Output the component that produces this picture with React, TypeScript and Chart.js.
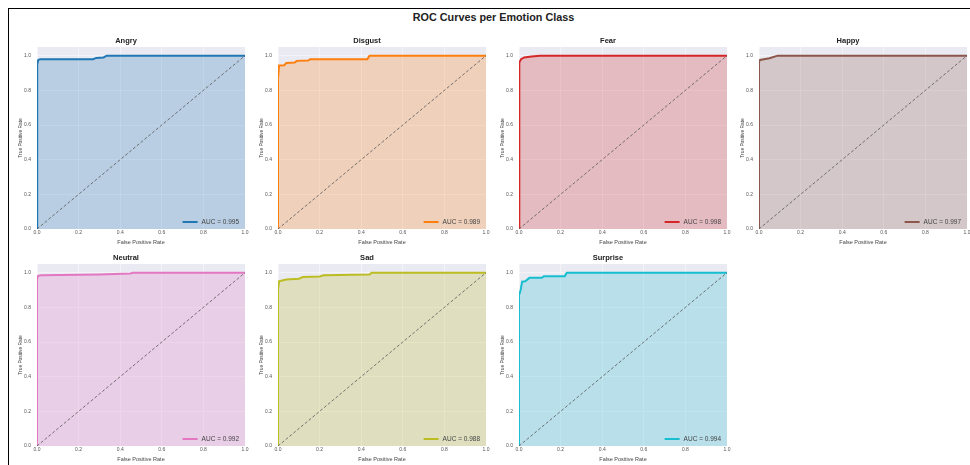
import { useEffect, useRef } from "react";
import { Chart, registerables } from "chart.js";

Chart.register(...registerables);

// ---------- data ----------
const figureTitle = "ROC Curves per Emotion Class";
const classes = ["Angry", "Disgust", "Fear", "Happy", "Neutral", "Sad", "Surprise"];
const aucValues = [0.995, 0.989, 0.998, 0.997, 0.992, 0.988, 0.994];
const axisTicks = [0, 0.2, 0.4, 0.6, 0.8, 1.0];
const chanceLine = [0, 1];

const angryFpr = [0, 0, 0.002, 0.006, 0.015, 0.27, 0.285, 0.32, 0.335, 1];
const angryTpr = [0, 0.88, 0.95, 0.975, 0.98, 0.98, 0.987, 0.99, 1.0, 1.0];

const disgustFpr = [0, 0, 0.005, 0.03, 0.04, 0.08, 0.09, 0.145, 0.155, 0.43, 0.44, 1];
const disgustTpr = [0, 0.87, 0.943, 0.945, 0.958, 0.96, 0.97, 0.972, 0.98, 0.98, 1.0, 1.0];

const fearFpr = [0, 0, 0.003, 0.01, 0.025, 0.06, 0.1, 1];
const fearTpr = [0, 0.92, 0.96, 0.98, 0.99, 0.995, 1.0, 1.0];

const happyFpr = [0, 0, 0.005, 0.05, 0.09, 1];
const happyTpr = [0, 0.965, 0.975, 0.985, 1.0, 1.0];

const neutralFpr = [0, 0, 0.005, 0.02, 0.3, 0.45, 0.46, 1];
const neutralTpr = [0, 0.96, 0.982, 0.985, 0.99, 0.995, 1.0, 1.0];

const sadFpr = [0, 0, 0.005, 0.02, 0.04, 0.1, 0.12, 0.2, 0.22, 0.44, 0.45, 1];
const sadTpr = [0, 0.9, 0.95, 0.955, 0.96, 0.965, 0.975, 0.978, 0.985, 0.99, 1.0, 1.0];

const surpriseFpr = [0, 0, 0.008, 0.015, 0.03, 0.05, 0.11, 0.12, 0.22, 0.23, 1];
const surpriseTpr = [0, 0.87, 0.9, 0.948, 0.95, 0.97, 0.97, 0.98, 0.98, 1.0, 1.0];

const fprList = [angryFpr, disgustFpr, fearFpr, happyFpr, neutralFpr, sadFpr, surpriseFpr];
const tprList = [angryTpr, disgustTpr, fearTpr, happyTpr, neutralTpr, sadTpr, surpriseTpr];

// ---------- styles ----------
const colors = ["#1f77b4", "#ff7f0e", "#d62728", "#8c564b", "#e377c2", "#bcbd22", "#17becf"];
const colLefts = [37, 278, 519, 759];
const rowTops = [47, 264];
const PLOT_W = 208;
const PLOT_H = 182;
const AXIS_W = 30;
const TITLE_H = 16;
const XAXIS_H = 18;
const PAD_R = 8;
const FONT = '"Liberation Sans", Arial, sans-serif';

function rgba(hex: string, a: number) {
  const n = parseInt(hex.slice(1), 16);
  return `rgba(${(n >> 16) & 255},${(n >> 8) & 255},${n & 255},${a})`;
}

const bgPlugin = {
  id: "axesBg",
  beforeDraw(chart: any) {
    const { ctx, chartArea } = chart;
    ctx.save();
    ctx.fillStyle = "#eaeaf2";
    ctx.fillRect(chartArea.left, chartArea.top, chartArea.right - chartArea.left, chartArea.bottom - chartArea.top);
    ctx.restore();
  },
};

const legendPlugin = {
  id: "aucLegend",
  afterDatasetsDraw(chart: any) {
    const { ctx, chartArea } = chart;
    const ds = chart.data.datasets[0];
    ctx.save();
    ctx.font = `6.5px ${FONT}`;
    const text = ds.label as string;
    const tw = ctx.measureText(text).width;
    const xr = chartArea.right - 6;
    const y = chartArea.bottom - 7;
    ctx.fillStyle = "#444";
    ctx.textBaseline = "middle";
    ctx.textAlign = "right";
    ctx.fillText(text, xr, y);
    ctx.strokeStyle = ds.borderColor;
    ctx.lineWidth = 2;
    ctx.beginPath();
    ctx.moveTo(xr - tw - 4 - 15, y);
    ctx.lineTo(xr - tw - 4, y);
    ctx.stroke();
    ctx.restore();
  },
};

function Panel({ index }: { index: number }) {
  const ref = useRef<HTMLCanvasElement | null>(null);
  const col = index % 4;
  const row = Math.floor(index / 4);
  const left = colLefts[col] - AXIS_W;
  const top = rowTops[row] - TITLE_H;
  const width = AXIS_W + PLOT_W + PAD_R;
  const height = TITLE_H + PLOT_H + XAXIS_H;

  useEffect(() => {
    if (!ref.current) return;
    const color = colors[index];
    const fpr = fprList[index];
    const tpr = tprList[index];
    const chart = new Chart(ref.current, {
      type: "line",
      data: {
        datasets: [
          {
            label: `AUC = ${aucValues[index].toFixed(3)}`,
            data: fpr.map((x, i) => ({ x, y: tpr[i] })),
            borderColor: color,
            backgroundColor: rgba(color, 0.24),
            borderWidth: 2,
            pointRadius: 0,
            tension: 0,
            fill: "origin",
            order: 1,
          },
          {
            label: "chance",
            data: chanceLine.map((v) => ({ x: v, y: v })),
            borderColor: "#555",
            borderWidth: 0.8,
            borderDash: [3, 2],
            pointRadius: 0,
            fill: false,
            order: 0,
          },
        ],
      },
      options: {
        animation: false,
        responsive: false,
        devicePixelRatio: 1,
        layout: { padding: { left: 0, top: 0, right: PAD_R, bottom: 0 } },
        plugins: {
          legend: { display: false },
          tooltip: { enabled: false },
          title: {
            display: true,
            text: classes[index],
            color: "#222",
            font: { family: FONT, size: 7.5, weight: "bold", lineHeight: "8px" },
            padding: { top: 6, bottom: 2 },
          },
        },
        scales: {
          x: {
            type: "linear",
            min: 0,
            max: 1,
            afterBuildTicks: (s: any) => {
              s.ticks = axisTicks.map((v) => ({ value: v }));
            },
            afterFit: (s: any) => {
              s.height = XAXIS_H;
            },
            grid: { color: "rgba(255,255,255,0.45)", lineWidth: 1, drawTicks: false },
            border: { display: false },
            ticks: {
              color: "#555",
              font: { family: FONT, size: 5 },
              padding: 1,
              maxRotation: 0,
              autoSkip: false,
              callback: (v: any) => Number(v).toFixed(1),
            },
            title: {
              display: true,
              text: "False Positive Rate",
              color: "#444",
              font: { family: FONT, size: 5.5 },
              padding: { top: 0, bottom: 1.7 },
            },
          },
          y: {
            type: "linear",
            min: 0,
            max: 1.05,
            afterBuildTicks: (s: any) => {
              s.ticks = axisTicks.map((v) => ({ value: v }));
            },
            afterFit: (s: any) => {
              s.width = AXIS_W;
            },
            grid: { color: "rgba(255,255,255,0.45)", lineWidth: 1, drawTicks: false },
            border: { display: false },
            ticks: {
              color: "#555",
              font: { family: FONT, size: 5 },
              padding: 6,
              autoSkip: false,
              callback: (v: any) => Number(v).toFixed(1),
            },
            title: {
              display: true,
              text: "True Positive Rate",
              color: "#444",
              font: { family: FONT, size: 4.8 },
              padding: { top: 10.5, bottom: 0 },
            },
          },
        },
      },
      plugins: [bgPlugin, legendPlugin],
    } as any);
    return () => chart.destroy();
  }, [index]);

  return (
    <canvas
      ref={ref}
      width={width}
      height={height}
      style={{ position: "absolute", left, top, width, height }}
    />
  );
}

export default function App() {
  return (
    <div
      style={{
        position: "absolute",
        left: 0,
        top: 0,
        width: 970,
        height: 465,
        background: "#ffffff",
        overflow: "hidden",
      }}
    >
      <div
        style={{
          position: "absolute",
          left: 8,
          top: 8,
          width: 962,
          height: 457,
          borderTop: "1.5px solid #000",
          borderLeft: "1.5px solid #000",
        }}
      />
      <div
        style={{
          position: "absolute",
          left: 0,
          top: 10,
          width: 987,
          textAlign: "center",
          fontFamily: FONT,
          fontWeight: "bold",
          fontSize: 10.8,
          color: "#222",
          lineHeight: "14px",
        }}
      >
        {figureTitle}
      </div>
      {classes.map((c, i) => (
        <Panel key={c} index={i} />
      ))}
    </div>
  );
}
